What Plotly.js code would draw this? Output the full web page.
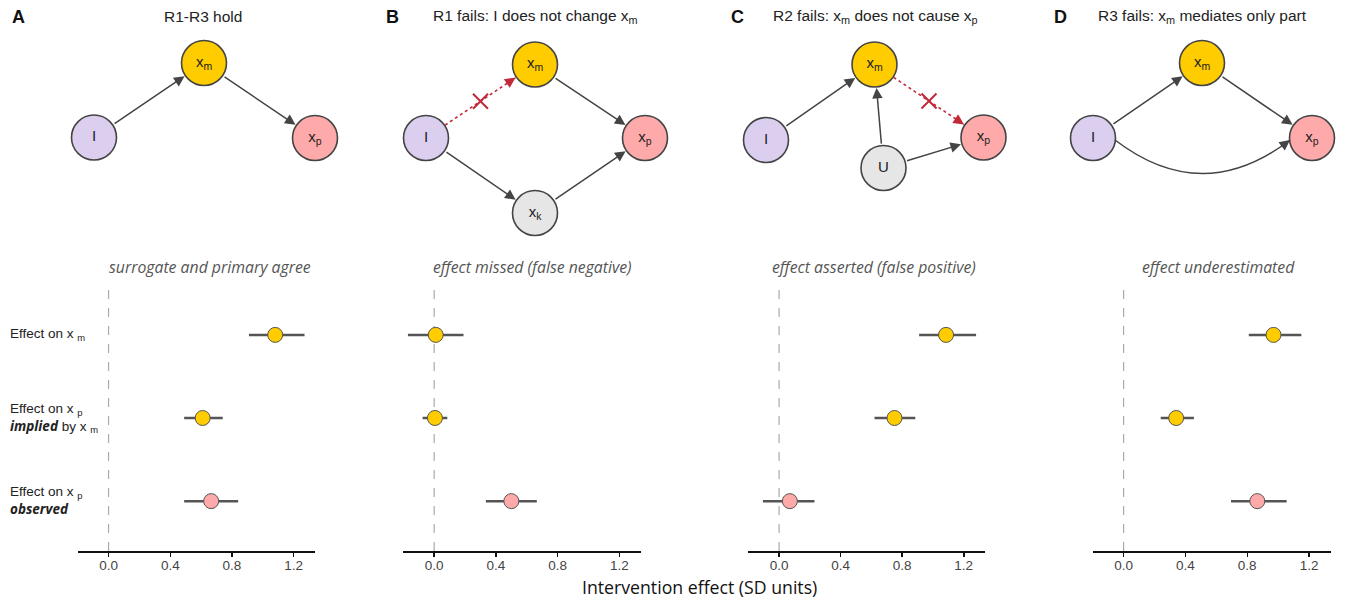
<!DOCTYPE html>
<html>
<head>
<meta charset="utf-8">
<script src="https://cdn.plot.ly/plotly-3.0.1.min.js"></script>
<style>html,body{margin:0;padding:0;background:#fff;}#chart{width:1345px;height:604px;}</style>
</head>
<body>
<div id="chart"></div>
<script>
// ---------------- data ----------------
const panelLetters = ['A', 'B', 'C', 'D'];
const panelTitles = [
  'R1-R3 hold',
  'R1 fails: I does not change x<sub>m</sub>',
  'R2 fails: x<sub>m</sub> does not cause x<sub>p</sub>',
  'R3 fails: x<sub>m</sub> mediates only part'
];
const subtitles = [
  'surrogate and primary agree',
  'effect missed (false negative)',
  'effect asserted (false positive)',
  'effect underestimated'
];
const rowLabels = [
  'Effect on x <sub>m</sub>',
  'Effect on x <sub>p</sub><br><span style="font-family:Noto Sans"><b><i>implied</i></b></span> by x <sub>m</sub>',
  'Effect on x <sub>p</sub><br><span style="font-family:Noto Sans"><b><i>observed</i></b></span>'
];
const rowPos = [3, 2, 1];
const tickVals = [0, 0.4, 0.8, 1.2];
const tickLabels = ['0.0', '0.4', '0.8', '1.2'];

// estimates per panel A..D
const estXm = [1.08, 0.01, 1.085, 0.97];
const loXm = [0.91, -0.17, 0.91, 0.81];
const hiXm = [1.27, 0.19, 1.28, 1.15];
const estImplied = [0.61, 0.005, 0.75, 0.34];
const loImplied = [0.49, -0.075, 0.62, 0.24];
const hiImplied = [0.74, 0.085, 0.885, 0.455];
const estObserved = [0.665, 0.50, 0.07, 0.865];
const loObserved = [0.49, 0.335, -0.105, 0.695];
const hiObserved = [0.84, 0.665, 0.23, 1.055];

// DAG structure per panel
const dagNodeNames = [
  ['I', 'x<sub>m</sub>', 'x<sub>p</sub>'],
  ['I', 'x<sub>m</sub>', 'x<sub>p</sub>', 'x<sub>k</sub>'],
  ['I', 'x<sub>m</sub>', 'x<sub>p</sub>', 'U'],
  ['I', 'x<sub>m</sub>', 'x<sub>p</sub>']
];
const dagNodeX = [
  [94, 204, 315],
  [426, 535, 645, 535],
  [766, 874.5, 983.5, 883.5],
  [1093, 1202, 1312]
];
const dagNodeY = [
  [137.5, 63, 138],
  [138, 64.5, 138, 213],
  [140, 64.5, 137.5, 168],
  [138, 63, 138]
];
const dagNodeKind = [
  ['I', 'm', 'p'],
  ['I', 'm', 'p', 'o'],
  ['I', 'm', 'p', 'o'],
  ['I', 'm', 'p']
];
// edges: [from, to, type]
const dagEdges = [
  [[0, 1, 'solid'], [1, 2, 'solid']],
  [[0, 1, 'broken'], [1, 2, 'solid'], [0, 3, 'solid'], [3, 2, 'solid']],
  [[0, 1, 'solid'], [1, 2, 'broken'], [3, 1, 'solid'], [3, 2, 'solid']],
  [[0, 1, 'solid'], [1, 2, 'solid'], [0, 2, 'curve']]
];

// ---------------- styles ----------------
const nodeFill = {I: '#DCCEEE', m: '#FFCC00', p: '#FFAAAA', o: '#E6E6E6'};
const pointFill = ['#FFCC00', '#FFCC00', '#FFAAAA'];
const redCol = '#C22A3A';
const edgeCol = '#444444';
const nodeR = 23;
const W = 1345, H = 604;
const panelPx = [[77.7, 315.3], [403.3, 641], [748.3, 985.3], [1092.7, 1330.7]];
const subtitleX = [210, 532, 874, 1218];
const titleX = [203, 535, 875, 1202];
const letterX = [18, 392, 737, 1060];
const plotTop = 285, plotBottom = 551;

const traces = [];
const shapes = [];
const annotations = [];
const layout = {
  width: W, height: H,
  margin: {l: 0, r: 0, t: 0, b: 0},
  paper_bgcolor: '#ffffff',
  plot_bgcolor: 'rgba(0,0,0,0)',
  showlegend: false,
  font: {family: 'Liberation Sans, Arial, sans-serif', color: '#222'}
};

for (let p = 0; p < 4; p++) {
  const xa = p === 0 ? 'x' : 'x' + (p + 1);
  const ya = p === 0 ? 'y' : 'y' + (p + 1);
  const xKey = p === 0 ? 'xaxis' : 'xaxis' + (p + 1);
  const yKey = p === 0 ? 'yaxis' : 'yaxis' + (p + 1);
  layout[xKey] = {
    domain: [panelPx[p][0] / W, panelPx[p][1] / W],
    anchor: ya,
    range: [-0.2, 1.34],
    showgrid: false, zeroline: false,
    showline: true, linecolor: '#111', linewidth: 2,
    ticks: 'outside', ticklen: 4, tickwidth: 1.5, tickcolor: '#111',
    ticklabelstandoff: -3,
    tickvals: tickVals, ticktext: tickLabels,
    tickfont: {family: 'Liberation Sans, Arial, sans-serif', size: 13.5, color: '#444'},
    fixedrange: true
  };
  layout[yKey] = {
    domain: [(H - plotBottom) / H, (H - plotTop) / H],
    anchor: xa,
    range: [0.4, 3.6],
    visible: false, showgrid: false, zeroline: false, fixedrange: true
  };
  const est = [estXm[p], estImplied[p], estObserved[p]];
  const lo = [loXm[p], loImplied[p], loObserved[p]];
  const hi = [hiXm[p], hiImplied[p], hiObserved[p]];
  traces.push({
    type: 'scatter', mode: 'markers',
    x: est, y: rowPos, xaxis: xa, yaxis: ya,
    error_x: {
      type: 'data', symmetric: false,
      array: hi.map((h, i) => h - est[i]),
      arrayminus: lo.map((l, i) => est[i] - l),
      thickness: 2.5, width: 0, color: '#555'
    },
    marker: {size: 15, color: pointFill, line: {color: '#555', width: 1}},
    cliponaxis: false, hoverinfo: 'x'
  });
  shapes.push({
    type: 'line', xref: xa, yref: ya + ' domain',
    x0: 0, x1: 0, y0: 0, y1: 1,
    line: {color: '#AAAAAA', width: 1.2, dash: 'dash'}, layer: 'below'
  });
  annotations.push({
    xref: 'paper', yref: 'paper',
    x: subtitleX[p] / W, y: (H - 267) / H,
    xanchor: 'center', yanchor: 'middle', showarrow: false,
    text: '<i>' + subtitles[p] + '</i>',
    font: {family: 'Open Sans, Noto Sans, sans-serif', size: 15.8, color: '#555'}
  });
  annotations.push({
    xref: 'paper', yref: 'paper',
    x: titleX[p] / W, y: (H - 17) / H,
    xanchor: 'center', yanchor: 'middle', showarrow: false,
    text: panelTitles[p],
    font: {family: 'Liberation Sans, Arial, sans-serif', size: 15.5, color: '#222'}
  });
  annotations.push({
    xref: 'paper', yref: 'paper',
    x: letterX[p] / W, y: (H - 17) / H,
    xanchor: 'center', yanchor: 'middle', showarrow: false,
    text: '<b>' + panelLetters[p] + '</b>',
    font: {family: 'Liberation Sans, Arial, sans-serif', size: 18, color: '#111'}
  });
}

// row labels (left of panel A)
for (let r = 0; r < rowLabels.length; r++) {
  annotations.push({
    xref: 'paper', yref: 'y',
    x: 7.5 / W, y: rowPos[r],
    xanchor: 'left', yanchor: 'middle', align: 'left', showarrow: false,
    text: rowLabels[r],
    font: {family: 'Liberation Sans, Arial, sans-serif', size: 13.5, color: '#222'}
  });
}

// x axis title
annotations.push({
  xref: 'paper', yref: 'paper',
  x: 699 / W, y: (H - 587) / H,
  xanchor: 'center', yanchor: 'middle', showarrow: false,
  text: 'Intervention effect (SD units)',
  font: {family: 'Open Sans, Noto Sans, sans-serif', size: 17.7, color: '#111'}
});

// ---------------- DAG overlay (pixel-coordinate axes) ----------------
layout.xaxis5 = {domain: [0, 1], range: [0, W], anchor: 'y5', visible: false, fixedrange: true};
layout.yaxis5 = {domain: [0, 1], range: [H, 0], anchor: 'x5', visible: false, fixedrange: true};

function arrowHead(tx, ty, dx, dy, color) {
  const len = Math.hypot(dx, dy);
  const ux = dx / len, uy = dy / len;
  annotations.push({
    xref: 'x5', yref: 'y5', axref: 'x5', ayref: 'y5',
    x: tx, y: ty, ax: tx - ux * 9, ay: ty - uy * 9,
    text: '', showarrow: true, arrowhead: 2, arrowsize: 1.4, arrowwidth: 1.5,
    arrowcolor: color, standoff: 0, startstandoff: 0
  });
}

for (let p = 0; p < 4; p++) {
  const nx = dagNodeX[p], ny = dagNodeY[p];
  dagEdges[p].forEach(([a, b, kind]) => {
    const dx = nx[b] - nx[a], dy = ny[b] - ny[a];
    const len = Math.hypot(dx, dy);
    const ux = dx / len, uy = dy / len;
    if (kind === 'solid') {
      annotations.push({
        xref: 'x5', yref: 'y5', axref: 'x5', ayref: 'y5',
        x: nx[b], y: ny[b], ax: nx[a], ay: ny[a],
        text: '', showarrow: true, arrowhead: 2, arrowsize: 1.4, arrowwidth: 1.5,
        arrowcolor: edgeCol, standoff: nodeR + 0.5, startstandoff: nodeR
      });
    } else if (kind === 'broken') {
      const sx = nx[a] + ux * nodeR, sy = ny[a] + uy * nodeR;
      const ex = nx[b] - ux * (nodeR + 0.5), ey = ny[b] - uy * (nodeR + 0.5);
      traces.push({
        type: 'scatter', mode: 'lines', x: [sx, ex], y: [sy, ey],
        xaxis: 'x5', yaxis: 'y5', hoverinfo: 'skip',
        line: {color: redCol, width: 1.6, dash: 'dot'}
      });
      arrowHead(ex, ey, dx, dy, redCol);
      traces.push({
        type: 'scatter', mode: 'markers',
        x: [(nx[a] + nx[b]) / 2], y: [(ny[a] + ny[b]) / 2],
        xaxis: 'x5', yaxis: 'y5', hoverinfo: 'skip',
        marker: {symbol: 'x-thin', size: 15, line: {color: redCol, width: 2}}
      });
    } else if (kind === 'curve') {
      const sx = nx[a] + 22, sy = ny[a] + 2;
      const ex = nx[b] - 22, ey = ny[b] + 2;
      const cx = (sx + ex) / 2, cy = (sy + ey) / 2 + 67;
      shapes.push({
        type: 'path', xref: 'x5', yref: 'y5',
        path: `M ${sx},${sy} Q ${cx},${cy} ${ex},${ey}`,
        line: {color: edgeCol, width: 1.5}, fillcolor: 'rgba(0,0,0,0)'
      });
      arrowHead(ex, ey, ex - cx, ey - cy, edgeCol);
    }
  });
  traces.push({
    type: 'scatter', mode: 'markers+text',
    x: nx, y: ny, xaxis: 'x5', yaxis: 'y5',
    text: dagNodeNames[p], textposition: 'middle center',
    textfont: {family: 'Liberation Sans, Arial, sans-serif', size: 15, color: '#222'},
    marker: {size: 45, color: dagNodeKind[p].map(k => nodeFill[k]), line: {color: '#444', width: 1.6}},
    hoverinfo: 'skip', cliponaxis: false
  });
}

layout.shapes = shapes;
layout.annotations = annotations;

Plotly.newPlot('chart', traces, layout, {displayModeBar: false, staticPlot: true});
</script>
</body>
</html>
